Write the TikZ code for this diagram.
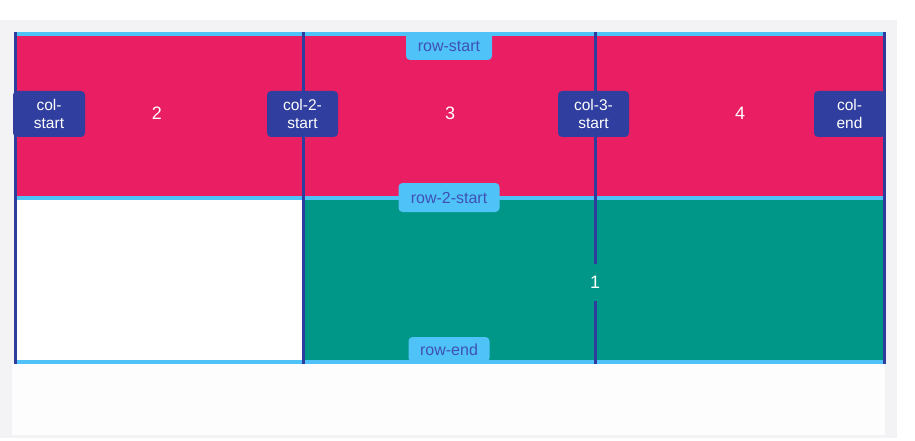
\documentclass[tikz,border=0pt]{standalone}
\usepackage{fontspec}
\setmainfont{Liberation Sans}
\definecolor{panelgray}{HTML}{F3F3F5}
\definecolor{panelwhite}{HTML}{FDFDFE}
\definecolor{itempink}{HTML}{E91E63}
\definecolor{itemteal}{HTML}{009688}
\definecolor{lineindigo}{HTML}{2E3C9E}
\definecolor{tagindigo}{HTML}{303F9F}
\definecolor{lineblue}{HTML}{4FC3F7}
\definecolor{tagtext}{HTML}{3F51B5}
\newcommand{\coltag}[4][]{\node[coltagbox,#1] at (#2) (#3) {#4}}
\newcommand{\rowtag}[4][]{\node[rowtagbox,#1] at (#2) (#3) {#4}}

\begin{document}
\begin{tikzpicture}[x=1pt,y=-1pt,
		coltagbox/.style={fill=tagindigo,text=white,rounded corners=4pt,align=center,
			minimum width=71pt,minimum height=46pt,inner sep=0pt,
			font=\fontsize{15.5}{17.5}\selectfont},
		rowtagbox/.style={fill=lineblue,text=tagtext,rounded corners=4pt,inner sep=0pt,
			font=\fontsize{16}{18}\selectfont},
		numlabel/.style={text=white,inner sep=0pt,font=\fontsize{18}{20}\selectfont},
		rowline/.style={lineblue,line width=4pt},
		colline/.style={lineindigo,line width=3pt}]
				\useasboundingbox (0,0) rectangle (915,441);
				% panel
				\fill[panelgray] (0,20) rectangle (897,438);
				\fill[panelwhite] (12,363) rectangle (885,435);
				
				% grid areas
				\fill[itempink] (15,34) rectangle (884,197);
				\fill[white] (15,197) rectangle (303,362);
				\fill[itemteal] (303,197) rectangle (884,362);
				
				% grid lines
				\foreach \y in {34,197.5,362}
					\draw[rowline] (15,\y) -- (884,\y);
				\foreach \x in {15,303,595,884}
					\draw[colline] (\x,32) -- (\x,364);
				
				\node[numlabel] at (157,113) (two) {2};
				\node[numlabel] at (450,113) (three) {3};
				\node[numlabel] at (740,113) (four) {4};
				\node[numlabel,fill=itemteal,minimum height=37pt,inner xsep=3pt] at (595,282) (one) {1};
				
				\coltag[minimum width=72pt]{49,114}{colstart}{col-\\start};
				\coltag{302.5,114}{col2start}{col-2-\\start};
				\coltag{593.5,114}{col3start}{col-3-\\start};
				\coltag{849.5,114}{colend}{col-\\end};
				
				\rowtag[minimum width=86pt,minimum height=27pt]{449,46.5}{rowstart}{row-start};
				\rowtag[minimum width=101pt,minimum height=29pt]{449,197.5}{row2start}{row-2-start};
				\rowtag[minimum width=81pt,minimum height=25pt]{449,349.5}{rowend}{row-end};
				
\end{tikzpicture}
\end{document}
